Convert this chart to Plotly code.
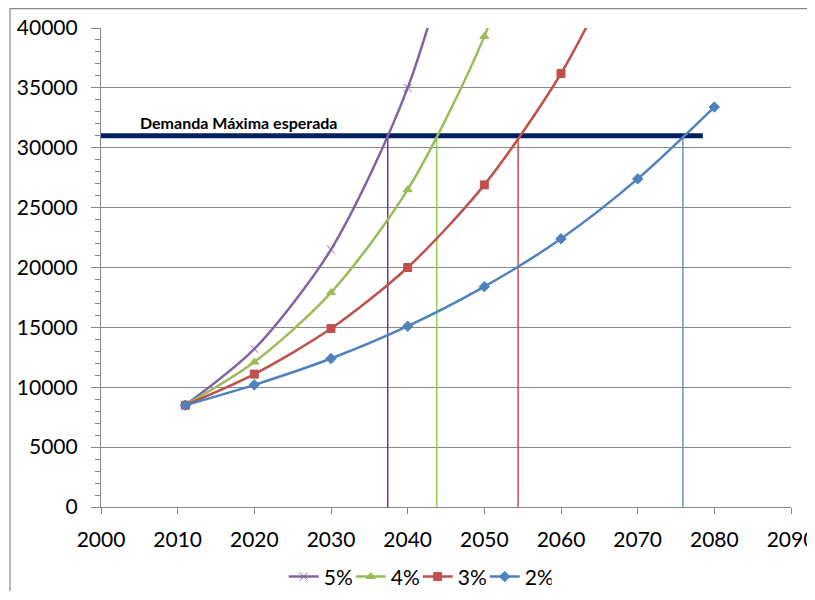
import plotly.graph_objects as go

# ---- data ----
series_names = ["5%", "4%", "3%", "2%"]
years_5 = [2011, 2020, 2030, 2040, 2050]
vals_5 = [8500, 13200, 21500, 35000, 57000]
years_4 = [2011, 2020, 2030, 2040, 2050, 2060]
vals_4 = [8500, 12100, 17900, 26500, 39300, 58100]
years_3 = [2011, 2020, 2030, 2040, 2050, 2060, 2070]
vals_3 = [8500, 11100, 14900, 20000, 26900, 36200, 48600]
years_2 = [2011, 2020, 2030, 2040, 2050, 2060, 2070, 2080]
vals_2 = [8500, 10200, 12400, 15100, 18400, 22400, 27400, 33400]
x_ticks = [2000, 2010, 2020, 2030, 2040, 2050, 2060, 2070, 2080, 2090]

demand_value = 31000
demand_years = [2000, 2078.5]
demand_label = "Demanda Máxima esperada"
crossing_years = [2037.4, 2043.8, 2054.4, 2075.9]  # 5%, 4%, 3%, 2%

colors = ["#8064A2", "#9BBB59", "#C0504D", "#4F81BD"]
vline_colors = ["#7030A0", "#92D050", "#C0504D", "#6A96CC"]
symbols = ["x-thin", "triangle-up", "square", "diamond"]
xs = [years_5, years_4, years_3, years_2]
ys = [vals_5, vals_4, vals_3, vals_2]

FONT = "Lato"
fig = go.Figure()

# vertical crossing lines
for cy, c in zip(crossing_years, vline_colors):
    fig.add_trace(go.Scatter(x=[cy, cy], y=[0, demand_value], mode="lines",
                             line=dict(color=c, width=1.5), showlegend=False,
                             hoverinfo="skip"))

# demand line
fig.add_trace(go.Scatter(x=demand_years, y=[demand_value, demand_value], mode="lines",
                         line=dict(color="#002060", width=5), showlegend=False,
                         hoverinfo="skip"))

for name, x, y, c, s in zip(series_names, xs, ys, colors, symbols):
    fig.add_trace(go.Scatter(
        x=x, y=y, name=name, mode="lines+markers",
        line=dict(color=c, width=2.5, shape="spline", smoothing=0.8),
        marker=dict(symbol=s, size=8, color=c, line=dict(color=c, width=1)),
    ))

fig.add_annotation(x=2004.8, y=32100, text="<b>" + demand_label + "</b>",
                   showarrow=False, xanchor="left", yanchor="middle",
                   font=dict(family=FONT, size=16, color="black"))

# outer chart border
fig.add_shape(type="rect", xref="paper", yref="paper",
              x0=-0.1319, x1=1.2, y0=-0.4, y1=1.0405,
              line=dict(color="#868686", width=1.2), fillcolor="rgba(0,0,0,0)")

fig.update_layout(
    width=807, height=583,
    margin=dict(l=93, r=24, t=20, b=84, autoexpand=False),
    paper_bgcolor="white", plot_bgcolor="white",
    font=dict(family=FONT, size=21, color="black"),
    legend=dict(orientation="h", x=0.459, xanchor="center", y=-0.146, yanchor="middle",
                font=dict(size=21), itemwidth=30, tracegroupgap=0,
                entrywidth=22, entrywidthmode="pixels"),
    showlegend=True,
)
fig.update_xaxes(range=[2000, 2090], tickmode="array", tickvals=x_ticks,
                 ticktext=[str(t) for t in x_ticks], showgrid=False,
                 showline=True, linecolor="#868686", linewidth=1.2, automargin=False,
                 ticks="outside", ticklen=6, tickcolor="#868686", zeroline=False,
                 ticklabelstandoff=8, ticklabeloverflow="allow")
fig.update_yaxes(range=[0, 40000], dtick=5000, tickformat="d", showgrid=True,
                 gridcolor="#868686", automargin=False,
                 gridwidth=1, showline=True, linecolor="#868686", linewidth=1.2,
                 ticks="outside", ticklen=9, tickcolor="#868686", zeroline=False,
                 ticklabelstandoff=9,
                 minor=dict(dtick=1000, ticks="outside", ticklen=5,
                            tickcolor="#868686", showgrid=False))

fig.write_html("out.html")
